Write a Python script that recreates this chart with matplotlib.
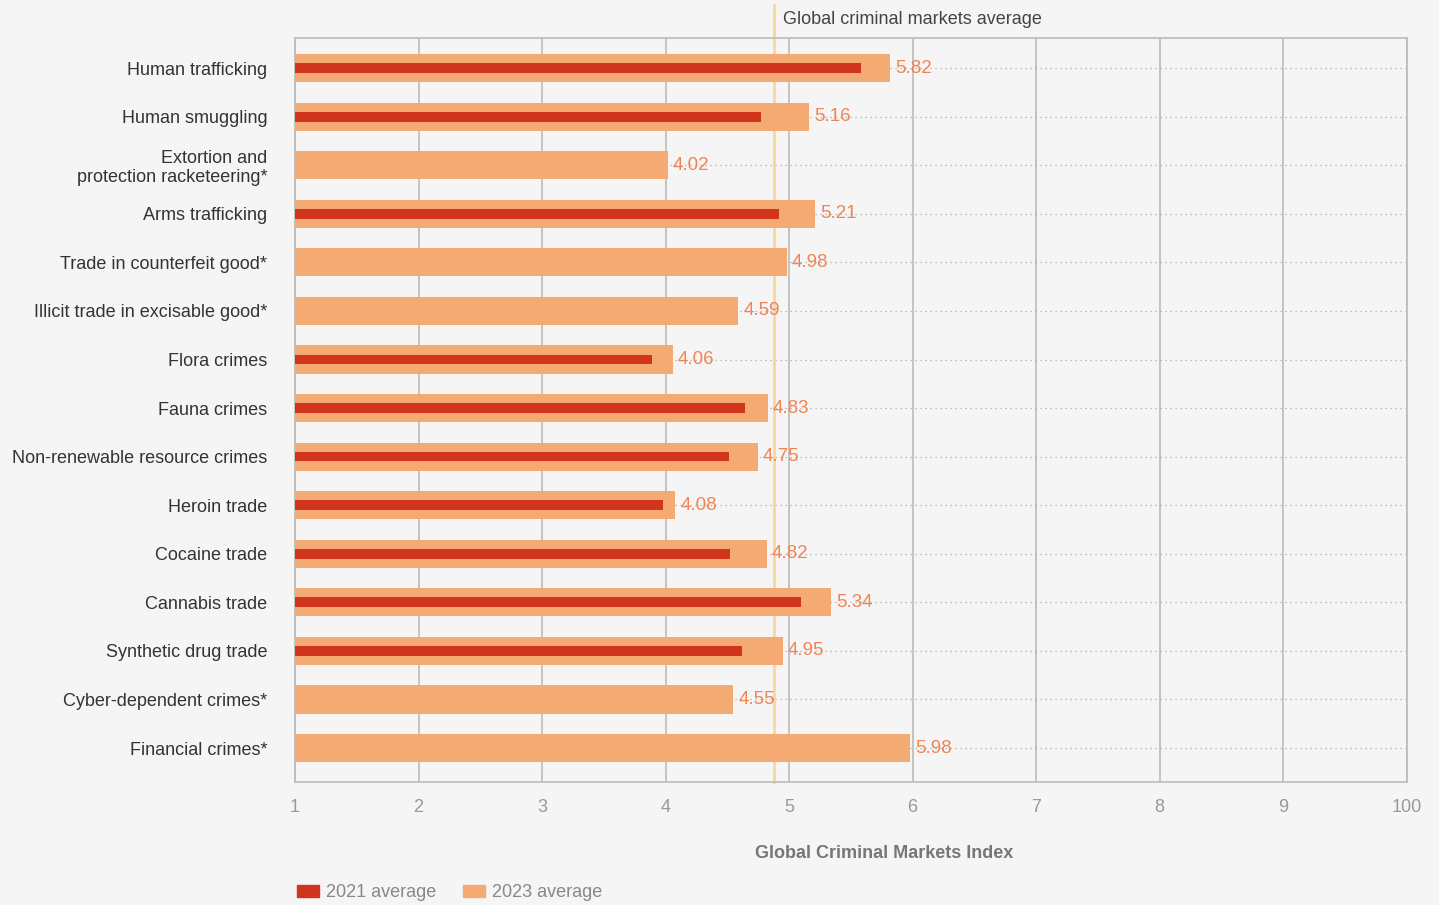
import matplotlib.pyplot as plt
from matplotlib.patches import Patch

plt.rcParams['font.family'] = ['Liberation Sans', 'DejaVu Sans']

categories = ["Human trafficking", "Human smuggling", "Extortion and\nprotection racketeering*",
              "Arms trafficking", "Trade in counterfeit good*", "Illicit trade in excisable good*",
              "Flora crimes", "Fauna crimes", "Non-renewable resource crimes", "Heroin trade",
              "Cocaine trade", "Cannabis trade", "Synthetic drug trade", "Cyber-dependent crimes*",
              "Financial crimes*"]
avg_2023 = [5.82, 5.16, 4.02, 5.21, 4.98, 4.59, 4.06, 4.83, 4.75, 4.08, 4.82, 5.34, 4.95, 4.55, 5.98]
avg_2021 = [5.58, 4.77, None, 4.92, None, None, 3.89, 4.64, 4.51, 3.98, 4.52, 5.10, 4.62, None, None]
global_avg = 4.88
xticks = [1, 2, 3, 4, 5, 6, 7, 8, 9, 10]
xtick_labels = ["1", "2", "3", "4", "5", "6", "7", "8", "9", "100"]

bg = "#f5f5f5"
c2023 = "#f5aa74"
c2021 = "#d2351e"

fig = plt.figure(figsize=(14.39, 9.05), dpi=100, facecolor=bg)
ax = fig.add_axes([0.205, 0.1359, 0.7725, 0.8221], facecolor=bg)

y = list(range(len(categories)))
for i in y:
    ax.axhline(i, color="#aaaaaa", lw=0.9, ls=(0, (1, 3)), zorder=1)
    ax.barh(i, avg_2023[i] - 1, left=1, height=0.58, color=c2023, zorder=3)
    if avg_2021[i] is not None:
        ax.barh(i, avg_2021[i] - 1, left=1, height=0.2, color=c2021, zorder=4)
    ax.text(avg_2023[i] + 0.04, i, f"{avg_2023[i]:.2f}", va="center", ha="left",
            fontsize=13.5, color="#f08455", zorder=5)

ax.axvline(global_avg, color="#fdd59b", lw=2, zorder=2, clip_on=False, ymax=1.045)
ax.text(global_avg + 0.07, -1.0, "Global criminal markets average", fontsize=13,
        color="#444444", va="center", ha="left")

ax.set_xlim(1, 10)
ax.set_ylim(14.7, -0.62)
ax.set_xticks(xticks)
ax.set_xticklabels(xtick_labels, fontsize=13, color="#999999")
ax.set_yticks(y)
ax.set_yticklabels(categories, fontsize=13, color="#333333", linespacing=1.1)
ax.tick_params(axis="x", length=0, pad=12)
ax.tick_params(axis="y", length=0, pad=20)
ax.xaxis.grid(True, color="#bbbbbb", lw=1.2)
ax.set_axisbelow(True)
for s in ax.spines.values():
    s.set_color("#bbbbbb")
    s.set_linewidth(1.2)

ax.set_xlabel("Global Criminal Markets Index", fontsize=13, fontweight="bold",
              color="#777777")
ax.xaxis.set_label_coords(0.53, -0.085)

handles = [Patch(color=c2021, label="2021 average"), Patch(color=c2023, label="2023 average")]
fig.legend(handles=handles, loc="lower left", bbox_to_anchor=(0.195, -0.014), ncol=2,
           frameon=False, fontsize=13, labelcolor="#888888", handlelength=1.2,
           handleheight=0.7, handletextpad=0.4, columnspacing=1.5)

fig.savefig("out.png", dpi=100, facecolor=bg)
